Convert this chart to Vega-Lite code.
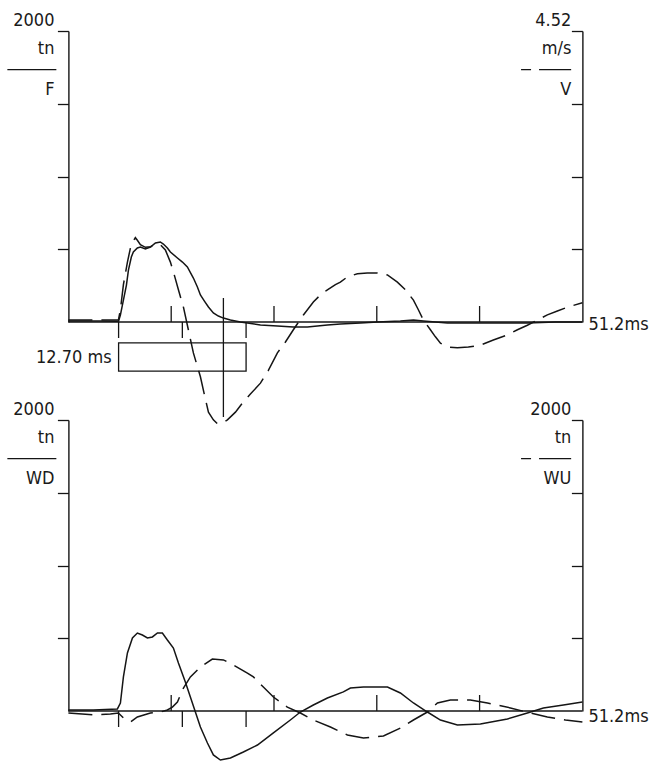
{
  "$schema": "https://vega.github.io/schema/vega-lite/v6.json",
  "background": "white",
  "padding": {"left": 6.4, "top": 12, "right": 0, "bottom": 0},
  "bounds": "flush",
  "spacing": 98,
  "config": {
    "view": {"stroke": null},
    "font": "DejaVu Sans Condensed, DejaVu Sans",
    "text": {"font": "DejaVu Sans Condensed, DejaVu Sans", "fontSize": 18, "color": "#1a1a1a"},
    "axis": {"grid": false, "labels": false, "domainColor": "#151515", "tickColor": "#151515", "domainWidth": 1.4, "tickWidth": 1.3},
    "axisY": {"tickSize": 11}
  },
  "datasets": {
    "force": [
      {"t": 0, "v": 7}, {"t": 3.19, "v": 7}, {"t": 4.78, "v": 5}, {"t": 5.0, "v": 7}, {"t": 5.18, "v": 48},
      {"t": 5.48, "v": 151}, {"t": 5.78, "v": 254}, {"t": 5.98, "v": 357}, {"t": 6.27, "v": 447}, {"t": 6.47, "v": 481},
      {"t": 6.87, "v": 509}, {"t": 7.17, "v": 515}, {"t": 7.67, "v": 502}, {"t": 8.17, "v": 515}, {"t": 8.67, "v": 543},
      {"t": 9.16, "v": 550}, {"t": 9.46, "v": 536}, {"t": 9.86, "v": 509}, {"t": 10.16, "v": 481}, {"t": 10.86, "v": 440},
      {"t": 11.36, "v": 412}, {"t": 11.85, "v": 378}, {"t": 12.45, "v": 302}, {"t": 12.85, "v": 241}, {"t": 13.15, "v": 186},
      {"t": 13.55, "v": 144}, {"t": 13.95, "v": 103}, {"t": 14.44, "v": 62}, {"t": 14.94, "v": 41}, {"t": 15.44, "v": 27},
      {"t": 16.14, "v": 14}, {"t": 17.13, "v": 0}, {"t": 17.83, "v": -7}, {"t": 19.13, "v": -21}, {"t": 20.82, "v": -27},
      {"t": 22.41, "v": -34}, {"t": 23.81, "v": -34}, {"t": 25.8, "v": -21}, {"t": 27.1, "v": -14}, {"t": 29.09, "v": -7},
      {"t": 30.78, "v": 0}, {"t": 33.07, "v": 7}, {"t": 34.37, "v": 14}, {"t": 35.36, "v": 7}, {"t": 37.75, "v": -7},
      {"t": 41.04, "v": -7}, {"t": 45.72, "v": -7}, {"t": 48.51, "v": 0}, {"t": 51.2, "v": 0}
    ],
    "velocity": [
      {"t": 0, "v": 0.03}, {"t": 3.19, "v": 0.03}, {"t": 4.98, "v": 0.03}, {"t": 5.18, "v": 0.19}, {"t": 5.48, "v": 0.58},
      {"t": 5.88, "v": 0.93}, {"t": 6.18, "v": 1.15}, {"t": 6.47, "v": 1.26}, {"t": 6.67, "v": 1.31}, {"t": 6.87, "v": 1.27},
      {"t": 7.17, "v": 1.2}, {"t": 7.67, "v": 1.16}, {"t": 8.17, "v": 1.17}, {"t": 8.67, "v": 1.2}, {"t": 9.16, "v": 1.2},
      {"t": 9.66, "v": 1.12}, {"t": 10.16, "v": 0.93}, {"t": 10.46, "v": 0.78}, {"t": 10.96, "v": 0.5}, {"t": 11.46, "v": 0.23},
      {"t": 11.95, "v": -0.12}, {"t": 12.45, "v": -0.48}, {"t": 13.15, "v": -0.85}, {"t": 13.55, "v": -1.13}, {"t": 13.95, "v": -1.4},
      {"t": 14.44, "v": -1.52}, {"t": 14.84, "v": -1.58}, {"t": 15.34, "v": -1.57}, {"t": 15.84, "v": -1.52}, {"t": 16.64, "v": -1.4},
      {"t": 17.43, "v": -1.24}, {"t": 18.13, "v": -1.12}, {"t": 19.13, "v": -0.95}, {"t": 19.92, "v": -0.75}, {"t": 20.82, "v": -0.48},
      {"t": 21.62, "v": -0.31}, {"t": 22.41, "v": -0.12}, {"t": 23.41, "v": 0.11}, {"t": 24.4, "v": 0.31}, {"t": 25.1, "v": 0.42},
      {"t": 25.8, "v": 0.5}, {"t": 26.6, "v": 0.58}, {"t": 27.09, "v": 0.62}, {"t": 27.79, "v": 0.7}, {"t": 28.79, "v": 0.75},
      {"t": 29.78, "v": 0.76}, {"t": 30.78, "v": 0.76}, {"t": 31.78, "v": 0.73}, {"t": 32.77, "v": 0.62}, {"t": 33.57, "v": 0.5},
      {"t": 34.37, "v": 0.34}, {"t": 34.86, "v": 0.19}, {"t": 35.36, "v": 0.03}, {"t": 36.06, "v": -0.12}, {"t": 36.56, "v": -0.23},
      {"t": 37.06, "v": -0.33}, {"t": 37.85, "v": -0.39}, {"t": 38.75, "v": -0.4}, {"t": 39.84, "v": -0.39}, {"t": 41.04, "v": -0.36},
      {"t": 42.33, "v": -0.28}, {"t": 43.73, "v": -0.2}, {"t": 44.73, "v": -0.12}, {"t": 45.72, "v": -0.05}, {"t": 46.72, "v": 0.03},
      {"t": 47.71, "v": 0.11}, {"t": 48.71, "v": 0.17}, {"t": 49.71, "v": 0.23}, {"t": 51.2, "v": 0.3}
    ],
    "wave_down": [
      {"t": 0, "v": 7}, {"t": 2.49, "v": 7}, {"t": 4.88, "v": 14}, {"t": 5.18, "v": 55}, {"t": 5.48, "v": 234},
      {"t": 5.88, "v": 399}, {"t": 6.38, "v": 502}, {"t": 6.87, "v": 536}, {"t": 7.37, "v": 522}, {"t": 7.87, "v": 502},
      {"t": 8.37, "v": 509}, {"t": 8.87, "v": 536}, {"t": 9.36, "v": 536}, {"t": 9.86, "v": 488}, {"t": 10.46, "v": 433},
      {"t": 10.96, "v": 330}, {"t": 11.65, "v": 199}, {"t": 12.15, "v": 96}, {"t": 12.65, "v": -7}, {"t": 13.15, "v": -110},
      {"t": 13.85, "v": -220}, {"t": 14.44, "v": -302}, {"t": 15.14, "v": -337}, {"t": 16.14, "v": -323}, {"t": 17.43, "v": -282},
      {"t": 18.83, "v": -234}, {"t": 20.42, "v": -151}, {"t": 22.11, "v": -62}, {"t": 23.11, "v": -7}, {"t": 24.4, "v": 41},
      {"t": 25.8, "v": 89}, {"t": 27.39, "v": 131}, {"t": 28.09, "v": 158}, {"t": 29.39, "v": 165}, {"t": 31.78, "v": 165},
      {"t": 33.07, "v": 124}, {"t": 34.37, "v": 55}, {"t": 35.76, "v": -7}, {"t": 37.06, "v": -62}, {"t": 38.75, "v": -96},
      {"t": 41.04, "v": -89}, {"t": 43.73, "v": -55}, {"t": 45.72, "v": -14}, {"t": 47.32, "v": 21}, {"t": 49.31, "v": 41},
      {"t": 51.2, "v": 62}
    ],
    "wave_up": [
      {"t": 0, "v": -14}, {"t": 2.49, "v": -27}, {"t": 4.18, "v": -21}, {"t": 4.98, "v": -14}, {"t": 5.48, "v": -48},
      {"t": 6.18, "v": -76}, {"t": 6.87, "v": -41}, {"t": 8.17, "v": -14}, {"t": 9.16, "v": -7}, {"t": 9.86, "v": 7},
      {"t": 10.36, "v": 27}, {"t": 10.86, "v": 62}, {"t": 11.46, "v": 158}, {"t": 12.15, "v": 234}, {"t": 13.15, "v": 302},
      {"t": 14.34, "v": 357}, {"t": 15.44, "v": 351}, {"t": 16.44, "v": 316}, {"t": 17.83, "v": 261}, {"t": 18.43, "v": 234},
      {"t": 19.42, "v": 165}, {"t": 20.42, "v": 96}, {"t": 21.81, "v": 27}, {"t": 23.11, "v": -14}, {"t": 24.4, "v": -62},
      {"t": 26.1, "v": -110}, {"t": 27.79, "v": -165}, {"t": 29.39, "v": -186}, {"t": 31.38, "v": -172}, {"t": 33.07, "v": -117},
      {"t": 34.37, "v": -62}, {"t": 35.76, "v": -7}, {"t": 36.76, "v": 55}, {"t": 38.05, "v": 76}, {"t": 40.04, "v": 76},
      {"t": 41.74, "v": 55}, {"t": 44.03, "v": 21}, {"t": 46.02, "v": -14}, {"t": 47.71, "v": -41}, {"t": 49.51, "v": -62},
      {"t": 51.2, "v": -76}
    ],
    "marks_up": [{"t": 10.24}, {"t": 20.48}, {"t": 30.72}, {"t": 40.96}],
    "marks_down": [{"t": 5.0}, {"t": 11.35}, {"t": 17.7}]
  },
  "vconcat": [
    {
      "width": 514,
      "height": 291,
      "resolve": {"scale": {"y": "independent"}},
      "layer": [
        {
          "data": {"name": "force"},
          "mark": {"type": "line", "color": "#151515", "strokeWidth": 1.5},
          "encoding": {
            "x": {"field": "t", "type": "quantitative", "scale": {"domain": [0, 51.2], "nice": false, "zero": false}, "axis": null},
            "y": {"field": "v", "type": "quantitative", "scale": {"domain": [0, 2000], "nice": false, "zero": false}, "axis": {"title": null, "orient": "left", "values": [500, 1000, 1500, 2000]}}
          }
        },
        {
          "data": {"name": "velocity"},
          "mark": {"type": "line", "color": "#151515", "strokeWidth": 1.5, "strokeDash": [24, 9]},
          "encoding": {
            "x": {"field": "t", "type": "quantitative", "scale": {"domain": [0, 51.2], "nice": false, "zero": false}, "axis": null},
            "y": {"field": "v", "type": "quantitative", "scale": {"domain": [0, 4.52], "nice": false, "zero": false}, "axis": {"orient": "right", "title": null, "values": [1.13, 2.26, 3.39, 4.52], "tickSize": -11}}
          }
        },
        {
          "data": {"values": [{}]},
          "mark": {"type": "rule", "color": "#151515", "strokeWidth": 1.4},
          "encoding": {
            "x": {"datum": 0, "type": "quantitative", "scale": {"domain": [0, 51.2], "nice": false, "zero": false}, "axis": null},
            "x2": {"datum": 51.2},
            "y": {"datum": 0, "type": "quantitative", "scale": {"domain": [0, 2000], "nice": false, "zero": false}, "axis": null}
          }
        },
        {
          "data": {"name": "marks_up"},
          "mark": {"type": "rule", "color": "#151515", "strokeWidth": 1.3},
          "encoding": {
            "x": {"field": "t", "type": "quantitative", "scale": {"domain": [0, 51.2], "nice": false, "zero": false}, "axis": null},
            "y": {"datum": 0, "type": "quantitative", "scale": {"domain": [0, 2000], "nice": false, "zero": false}, "axis": null},
            "y2": {"datum": 110}
          }
        },
        {
          "data": {"name": "marks_down"},
          "mark": {"type": "rule", "color": "#151515", "strokeWidth": 1.3},
          "encoding": {
            "x": {"field": "t", "type": "quantitative", "scale": {"domain": [0, 51.2], "nice": false, "zero": false}, "axis": null},
            "y": {"datum": 0, "type": "quantitative", "scale": {"domain": [0, 2000], "nice": false, "zero": false}, "axis": null},
            "y2": {"datum": -110}
          }
        },
        {
          "data": {"values": [{"t": 15.44}]},
          "mark": {"type": "rule", "color": "#151515", "strokeWidth": 1.3},
          "encoding": {
            "x": {"field": "t", "type": "quantitative", "scale": {"domain": [0, 51.2], "nice": false, "zero": false}, "axis": null},
            "y": {"datum": 165, "type": "quantitative", "scale": {"domain": [0, 2000], "nice": false, "zero": false}, "axis": null},
            "y2": {"datum": -653}
          }
        },
        {
          "data": {"values": [{"start": 5.0, "end": 17.7, "label": "12.70 ms"}]},
          "mark": {"type": "rect", "filled": false, "color": "#151515", "strokeWidth": 1.3},
          "encoding": {
            "x": {"field": "start", "type": "quantitative", "scale": {"domain": [0, 51.2], "nice": false, "zero": false}, "axis": null},
            "x2": {"field": "end"},
            "y": {"datum": -144, "type": "quantitative", "scale": {"domain": [0, 2000], "nice": false, "zero": false}, "axis": null},
            "y2": {"datum": -337}
          }
        },
        {
          "data": {"values": [{"start": 5.0, "end": 17.7, "label": "12.70 ms"}]},
          "mark": {"type": "text", "align": "right", "baseline": "alphabetic", "dx": -7},
          "encoding": {
            "x": {"field": "start", "type": "quantitative", "scale": {"domain": [0, 51.2], "nice": false, "zero": false}, "axis": null},
            "y": {"datum": -284, "type": "quantitative", "scale": {"domain": [0, 2000], "nice": false, "zero": false}, "axis": null},
            "text": {"field": "label"}
          }
        },
        {
          "data": {"values": [{}]},
          "mark": {"type": "rule", "color": "#151515", "strokeWidth": 1.3},
          "encoding": {
            "x": {"datum": -6.08, "type": "quantitative", "scale": {"domain": [0, 51.2], "nice": false, "zero": false}, "axis": null},
            "x2": {"datum": -1.2},
            "y": {"datum": 1734, "type": "quantitative", "scale": {"domain": [0, 2000], "nice": false, "zero": false}, "axis": null}
          }
        },
        {
          "data": {"values": [{}]},
          "mark": {"type": "rule", "color": "#151515", "strokeWidth": 1.3, "strokeDash": [10, 8, 40]},
          "encoding": {
            "x": {"datum": 45.09, "type": "quantitative", "scale": {"domain": [0, 51.2], "nice": false, "zero": false}, "axis": null},
            "x2": {"datum": 50.08},
            "y": {"datum": 1734, "type": "quantitative", "scale": {"domain": [0, 2000], "nice": false, "zero": false}, "axis": null}
          }
        },
        {
          "data": {"values": [{"label": "2000"}]},
          "mark": {"type": "text", "align": "right", "baseline": "alphabetic"},
          "encoding": {
            "x": {"datum": -1.39, "type": "quantitative", "scale": {"domain": [0, 51.2], "nice": false, "zero": false}, "axis": null},
            "y": {"datum": 2034, "type": "quantitative", "scale": {"domain": [0, 2000], "nice": false, "zero": false}, "axis": null},
            "text": {"field": "label"}
          }
        },
        {
          "data": {"values": [{"label": "tn"}]},
          "mark": {"type": "text", "align": "right", "baseline": "alphabetic"},
          "encoding": {
            "x": {"datum": -1.39, "type": "quantitative", "scale": {"domain": [0, 51.2], "nice": false, "zero": false}, "axis": null},
            "y": {"datum": 1845, "type": "quantitative", "scale": {"domain": [0, 2000], "nice": false, "zero": false}, "axis": null},
            "text": {"field": "label"}
          }
        },
        {
          "data": {"values": [{"label": "F"}]},
          "mark": {"type": "text", "align": "right", "baseline": "alphabetic"},
          "encoding": {
            "x": {"datum": -1.39, "type": "quantitative", "scale": {"domain": [0, 51.2], "nice": false, "zero": false}, "axis": null},
            "y": {"datum": 1557, "type": "quantitative", "scale": {"domain": [0, 2000], "nice": false, "zero": false}, "axis": null},
            "text": {"field": "label"}
          }
        },
        {
          "data": {"values": [{"label": "4.52"}]},
          "mark": {"type": "text", "align": "right", "baseline": "alphabetic"},
          "encoding": {
            "x": {"datum": 50.1, "type": "quantitative", "scale": {"domain": [0, 51.2], "nice": false, "zero": false}, "axis": null},
            "y": {"datum": 2034, "type": "quantitative", "scale": {"domain": [0, 2000], "nice": false, "zero": false}, "axis": null},
            "text": {"field": "label"}
          }
        },
        {
          "data": {"values": [{"label": "m/s"}]},
          "mark": {"type": "text", "align": "right", "baseline": "alphabetic"},
          "encoding": {
            "x": {"datum": 50.1, "type": "quantitative", "scale": {"domain": [0, 51.2], "nice": false, "zero": false}, "axis": null},
            "y": {"datum": 1845, "type": "quantitative", "scale": {"domain": [0, 2000], "nice": false, "zero": false}, "axis": null},
            "text": {"field": "label"}
          }
        },
        {
          "data": {"values": [{"label": "V"}]},
          "mark": {"type": "text", "align": "right", "baseline": "alphabetic"},
          "encoding": {
            "x": {"datum": 50.1, "type": "quantitative", "scale": {"domain": [0, 51.2], "nice": false, "zero": false}, "axis": null},
            "y": {"datum": 1557, "type": "quantitative", "scale": {"domain": [0, 2000], "nice": false, "zero": false}, "axis": null},
            "text": {"field": "label"}
          }
        },
        {
          "data": {"values": [{"label": "51.2ms"}]},
          "mark": {"type": "text", "align": "left", "baseline": "alphabetic", "dx": 6, "dy": 8},
          "encoding": {
            "x": {"datum": 51.2, "type": "quantitative", "scale": {"domain": [0, 51.2], "nice": false, "zero": false}, "axis": null},
            "y": {"datum": 0, "type": "quantitative", "scale": {"domain": [0, 2000], "nice": false, "zero": false}, "axis": null},
            "text": {"field": "label"}
          }
        }
      ]
    },
    {
      "width": 514,
      "height": 291,
      "resolve": {"scale": {"y": "independent"}},
      "layer": [
        {
          "data": {"name": "wave_down"},
          "mark": {"type": "line", "color": "#151515", "strokeWidth": 1.5},
          "encoding": {
            "x": {"field": "t", "type": "quantitative", "scale": {"domain": [0, 51.2], "nice": false, "zero": false}, "axis": null},
            "y": {"field": "v", "type": "quantitative", "scale": {"domain": [0, 2000], "nice": false, "zero": false}, "axis": {"title": null, "orient": "left", "values": [500, 1000, 1500, 2000]}}
          }
        },
        {
          "data": {"name": "wave_up"},
          "mark": {"type": "line", "color": "#151515", "strokeWidth": 1.5, "strokeDash": [24, 9]},
          "encoding": {
            "x": {"field": "t", "type": "quantitative", "scale": {"domain": [0, 51.2], "nice": false, "zero": false}, "axis": null},
            "y": {"field": "v", "type": "quantitative", "scale": {"domain": [0, 2000], "nice": false, "zero": false}, "axis": {"orient": "right", "title": null, "values": [500, 1000, 1500, 2000], "tickSize": -11}}
          }
        },
        {
          "data": {"values": [{}]},
          "mark": {"type": "rule", "color": "#151515", "strokeWidth": 1.4},
          "encoding": {
            "x": {"datum": 0, "type": "quantitative", "scale": {"domain": [0, 51.2], "nice": false, "zero": false}, "axis": null},
            "x2": {"datum": 51.2},
            "y": {"datum": 0, "type": "quantitative", "scale": {"domain": [0, 2000], "nice": false, "zero": false}, "axis": null}
          }
        },
        {
          "data": {"name": "marks_up"},
          "mark": {"type": "rule", "color": "#151515", "strokeWidth": 1.3},
          "encoding": {
            "x": {"field": "t", "type": "quantitative", "scale": {"domain": [0, 51.2], "nice": false, "zero": false}, "axis": null},
            "y": {"datum": 0, "type": "quantitative", "scale": {"domain": [0, 2000], "nice": false, "zero": false}, "axis": null},
            "y2": {"datum": 110}
          }
        },
        {
          "data": {"name": "marks_down"},
          "mark": {"type": "rule", "color": "#151515", "strokeWidth": 1.3},
          "encoding": {
            "x": {"field": "t", "type": "quantitative", "scale": {"domain": [0, 51.2], "nice": false, "zero": false}, "axis": null},
            "y": {"datum": 0, "type": "quantitative", "scale": {"domain": [0, 2000], "nice": false, "zero": false}, "axis": null},
            "y2": {"datum": -110}
          }
        },
        {
          "data": {"values": [{}]},
          "mark": {"type": "rule", "color": "#151515", "strokeWidth": 1.3},
          "encoding": {
            "x": {"datum": -6.08, "type": "quantitative", "scale": {"domain": [0, 51.2], "nice": false, "zero": false}, "axis": null},
            "x2": {"datum": -1.2},
            "y": {"datum": 1734, "type": "quantitative", "scale": {"domain": [0, 2000], "nice": false, "zero": false}, "axis": null}
          }
        },
        {
          "data": {"values": [{}]},
          "mark": {"type": "rule", "color": "#151515", "strokeWidth": 1.3, "strokeDash": [10, 8, 40]},
          "encoding": {
            "x": {"datum": 45.09, "type": "quantitative", "scale": {"domain": [0, 51.2], "nice": false, "zero": false}, "axis": null},
            "x2": {"datum": 50.08},
            "y": {"datum": 1734, "type": "quantitative", "scale": {"domain": [0, 2000], "nice": false, "zero": false}, "axis": null}
          }
        },
        {
          "data": {"values": [{"label": "2000"}]},
          "mark": {"type": "text", "align": "right", "baseline": "alphabetic"},
          "encoding": {
            "x": {"datum": -1.39, "type": "quantitative", "scale": {"domain": [0, 51.2], "nice": false, "zero": false}, "axis": null},
            "y": {"datum": 2034, "type": "quantitative", "scale": {"domain": [0, 2000], "nice": false, "zero": false}, "axis": null},
            "text": {"field": "label"}
          }
        },
        {
          "data": {"values": [{"label": "tn"}]},
          "mark": {"type": "text", "align": "right", "baseline": "alphabetic"},
          "encoding": {
            "x": {"datum": -1.39, "type": "quantitative", "scale": {"domain": [0, 51.2], "nice": false, "zero": false}, "axis": null},
            "y": {"datum": 1845, "type": "quantitative", "scale": {"domain": [0, 2000], "nice": false, "zero": false}, "axis": null},
            "text": {"field": "label"}
          }
        },
        {
          "data": {"values": [{"label": "WD"}]},
          "mark": {"type": "text", "align": "right", "baseline": "alphabetic"},
          "encoding": {
            "x": {"datum": -1.39, "type": "quantitative", "scale": {"domain": [0, 51.2], "nice": false, "zero": false}, "axis": null},
            "y": {"datum": 1557, "type": "quantitative", "scale": {"domain": [0, 2000], "nice": false, "zero": false}, "axis": null},
            "text": {"field": "label"}
          }
        },
        {
          "data": {"values": [{"label": "2000"}]},
          "mark": {"type": "text", "align": "right", "baseline": "alphabetic"},
          "encoding": {
            "x": {"datum": 50.1, "type": "quantitative", "scale": {"domain": [0, 51.2], "nice": false, "zero": false}, "axis": null},
            "y": {"datum": 2034, "type": "quantitative", "scale": {"domain": [0, 2000], "nice": false, "zero": false}, "axis": null},
            "text": {"field": "label"}
          }
        },
        {
          "data": {"values": [{"label": "tn"}]},
          "mark": {"type": "text", "align": "right", "baseline": "alphabetic"},
          "encoding": {
            "x": {"datum": 50.1, "type": "quantitative", "scale": {"domain": [0, 51.2], "nice": false, "zero": false}, "axis": null},
            "y": {"datum": 1845, "type": "quantitative", "scale": {"domain": [0, 2000], "nice": false, "zero": false}, "axis": null},
            "text": {"field": "label"}
          }
        },
        {
          "data": {"values": [{"label": "WU"}]},
          "mark": {"type": "text", "align": "right", "baseline": "alphabetic"},
          "encoding": {
            "x": {"datum": 50.1, "type": "quantitative", "scale": {"domain": [0, 51.2], "nice": false, "zero": false}, "axis": null},
            "y": {"datum": 1557, "type": "quantitative", "scale": {"domain": [0, 2000], "nice": false, "zero": false}, "axis": null},
            "text": {"field": "label"}
          }
        },
        {
          "data": {"values": [{"label": "51.2ms"}]},
          "mark": {"type": "text", "align": "left", "baseline": "alphabetic", "dx": 6, "dy": 11},
          "encoding": {
            "x": {"datum": 51.2, "type": "quantitative", "scale": {"domain": [0, 51.2], "nice": false, "zero": false}, "axis": null},
            "y": {"datum": 0, "type": "quantitative", "scale": {"domain": [0, 2000], "nice": false, "zero": false}, "axis": null},
            "text": {"field": "label"}
          }
        }
      ]
    }
  ]
}
